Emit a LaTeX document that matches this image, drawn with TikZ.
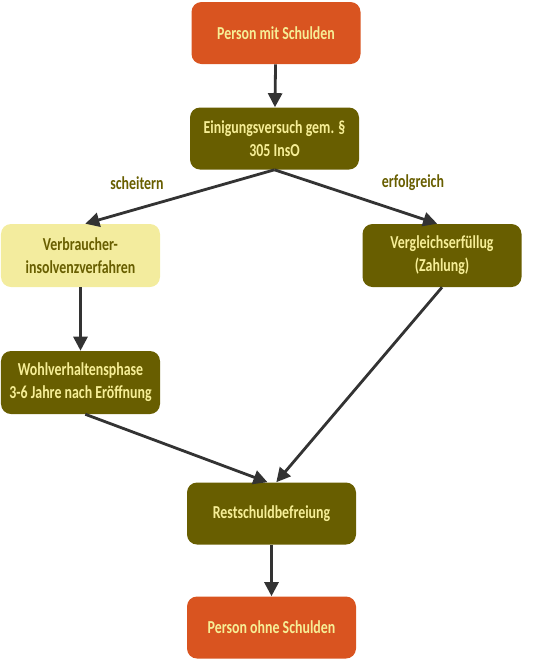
\documentclass[tikz,border=0pt]{standalone}
\usepackage{fontspec}
\setmainfont{Carlito}[FakeStretch=0.76]
\usepackage{tikz}
\usetikzlibrary{arrows.meta,positioning}
\usepackage{xcolor}
\definecolor{schuldorange}{RGB}{217,84,32}
\definecolor{olivebox}{RGB}{104,94,0}
\definecolor{paleyellow}{RGB}{243,236,158}
\definecolor{textyellow}{RGB}{246,238,150}
\definecolor{arrowgray}{RGB}{51,51,51}

\begin{document}
\begin{tikzpicture}[
    person/.style={rectangle, rounded corners=0.25cm, minimum width=4.225cm, minimum height=1.55cm, fill=schuldorange, text=textyellow, font=\bfseries\fontsize{13}{16.5}\selectfont, align=center},
    phase/.style={rectangle, rounded corners=0.25cm, minimum width=4.225cm, minimum height=1.55cm, fill=olivebox, text=textyellow, font=\bfseries\fontsize{13}{16.5}\selectfont, align=center},
    sidephase/.style={phase, minimum width=3.975cm, minimum height=1.575cm},
    lightphase/.style={sidephase, fill=paleyellow, text=olivebox},
    outcome/.style={text=olivebox, font=\bfseries\fontsize{13}{16.5}\selectfont},
    flow/.style={-{Triangle[length=10pt,width=10pt]}, line width=2pt, draw=arrowgray}
]
    \useasboundingbox (0,0) rectangle (13.825,-16.5);

    \node[person] (mit) at (6.9,-0.825) {Person mit Schulden};
    \node[phase] (einigung) at (6.8625,-3.4625) {Einigungsversuch gem. \S\\305 InsO};

    \node[lightphase] (verbraucher) at (2.0125,-6.3875) {Verbraucher-\\insolvenzverfahren};
    \node[sidephase] (vergleich) at (11.05,-6.3875) {Vergleichserfüllug\\(Zahlung)};
    \node[sidephase] (wohlverhalten) at (2.0125,-9.5625) {Wohlverhaltensphase\\3-6 Jahre nach Eröffnung};

    \node[phase] (rest) at (6.7875,-12.8375) {Restschuldbefreiung};
    \node[person] (ohne) at (6.7875,-15.6875) {Person ohne Schulden};

    \node[outcome] (scheitern) at (3.425,-4.575) {scheitern};
    \node[outcome] (erfolgreich) at (10.325,-4.575) {erfolgreich};

    \draw[flow] (mit) -- (einigung);
    \draw[flow] (einigung.south) -- ([xshift=0.12cm]verbraucher.north);
    \draw[flow] (einigung.south) -- ([xshift=-0.12cm]vergleich.north);
    \draw[flow] (verbraucher) -- (wohlverhalten);
    \draw[flow] ([xshift=0.12cm]wohlverhalten.south) -- ([xshift=-0.1cm]rest.north);
    \draw[flow] (vergleich.south) -- ([xshift=0.12cm]rest.north);
    \draw[flow] (rest) -- (ohne);
\end{tikzpicture}
\end{document}
